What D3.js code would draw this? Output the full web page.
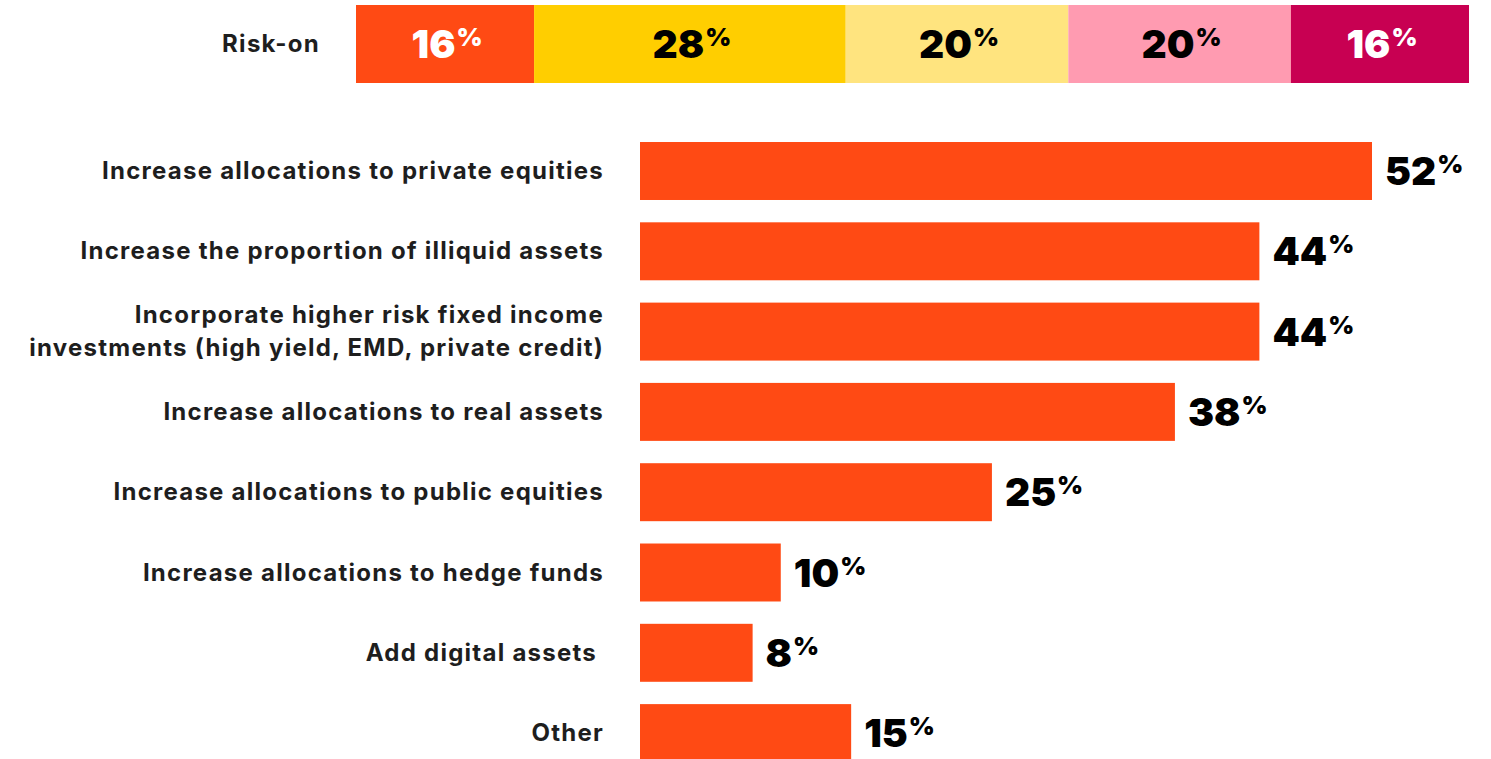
<!DOCTYPE html>
<html>
<head>
<meta charset="utf-8">
<script src="https://cdn.jsdelivr.net/npm/d3@7"></script>
<style>
  html, body { margin: 0; padding: 0; background: #ffffff; }
  svg { display: block; }
</style>
</head>
<body>
<svg id="chart" width="1491" height="759"></svg>
<script>
// Risk-on sentiment split (top stacked bar)
const riskLabel = "Risk-on";
const riskShares = [16, 28, 20, 20, 16];
const riskColors = ["#FF4A14", "#FFCE00", "#FFE47F", "#FF9BB1", "#C80052"];
const riskTextColors = ["#ffffff", "#000000", "#000000", "#000000", "#ffffff"];

// Planned actions and share of respondents
const actions = [
  ["Increase allocations to private equities"],
  ["Increase the proportion of illiquid assets"],
  ["Incorporate higher risk fixed income", "investments (high yield, EMD, private credit)"],
  ["Increase allocations to real assets"],
  ["Increase allocations to public equities"],
  ["Increase allocations to hedge funds"],
  ["Add digital assets "],
  ["Other"]
];
const actionValues = [52, 44, 44, 38, 25, 10, 8, 15];

const barColor = "#FF4A14";
const labelFont = "Inter, Roboto, sans-serif";
const valueFont = "Inter, Lato, sans-serif";

const svg = d3.select("#chart");

// value text: big number with a raised, smaller percent sign
function pctLabel(sel, getValue) {
  sel.style("font-family", valueFont)
    .style("font-weight", 900)
    .style("font-size", "39px");
  sel.append("tspan").text(getValue);
  sel.append("tspan").attr("dx", 1).attr("dy", -12).style("font-size", "25px").text("%");
}

function categoryStyle(sel) {
  sel.attr("fill", "#1e1e1e")
    .style("font-family", labelFont)
    .style("font-weight", 700)
    .style("font-size", "24px")
    .style("letter-spacing", "1.25px")
    .style("white-space", "pre");
}

// ---- Top stacked bar ----
const xr = d3.scaleLinear().domain([0, d3.sum(riskShares)]).range([356, 1469]);
const stacked = [];
let acc = 0;
riskShares.forEach((v, i) => { stacked.push({ v, i, x0: acc, x1: acc + v }); acc += v; });

const riskG = svg.append("g");
const topY = 5, topH = 78;
riskG.selectAll("rect").data(stacked).join("rect")
  .attr("x", d => xr(d.x0))
  .attr("y", topY)
  .attr("width", d => xr(d.x1) - xr(d.x0))
  .attr("height", topH)
  .attr("fill", d => riskColors[d.i]);

riskG.selectAll("text.seg").data(stacked).join("text")
  .attr("class", "seg")
  .attr("x", d => (xr(d.x0) + xr(d.x1)) / 2 + 2)
  .attr("y", topY + topH / 2 + 14)
  .attr("text-anchor", "middle")
  .attr("fill", d => riskTextColors[d.i])
  .call(pctLabel, d => d.v);

riskG.append("text")
  .attr("x", 320)
  .attr("y", topY + topH / 2 + 8)
  .attr("text-anchor", "end")
  .call(categoryStyle)
  .text(riskLabel);

// ---- Horizontal bars ----
const x = d3.scaleLinear().domain([0, 52]).range([640, 1372]);
const idx = d3.range(actions.length);
const y = d3.scaleBand().domain(idx)
  .range([130.85, 130.85 + 80.3 * actions.length])
  .paddingInner(0.278).paddingOuter(0.139);

const bars = svg.append("g");
bars.selectAll("rect").data(idx).join("rect")
  .attr("x", x(0))
  .attr("y", i => y(i))
  .attr("width", i => x(actionValues[i]) - x(0))
  .attr("height", y.bandwidth())
  .attr("fill", barColor);

// value labels
bars.selectAll("text.val").data(idx).join("text")
  .attr("class", "val")
  .attr("x", i => x(actionValues[i]) + 13)
  .attr("y", i => y(i) + y.bandwidth() / 2 + 14)
  .attr("fill", "#000000")
  .call(pctLabel, i => actionValues[i]);

// category labels (right-aligned, wrapped lines)
const cats = bars.selectAll("text.cat").data(idx).join("text")
  .attr("class", "cat")
  .attr("text-anchor", "end")
  .call(categoryStyle);
cats.each(function(i) {
  const lines = actions[i];
  const lh = 33;
  const cy = y(i) + y.bandwidth() / 2;
  const first = cy - (lines.length - 1) * lh / 2 + 8;
  lines.forEach((ln, k) => {
    d3.select(this).append("tspan")
      .attr("x", 604)
      .attr("y", first + k * lh)
      .text(ln);
  });
});
</script>
</body>
</html>
